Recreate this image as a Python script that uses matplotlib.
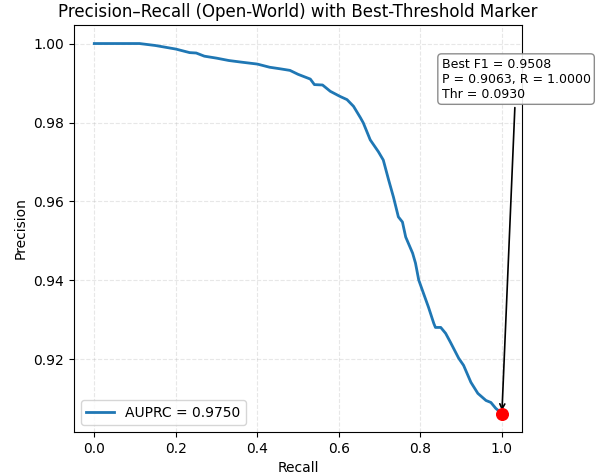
import matplotlib
matplotlib.use('Agg')
import matplotlib.pyplot as plt

# PR curve points
recall = [0.0, 0.111, 0.15, 0.2, 0.234, 0.25, 0.27, 0.30, 0.33, 0.36, 0.40,
          0.43, 0.456, 0.48, 0.50, 0.53, 0.54, 0.56, 0.579, 0.603, 0.62,
          0.636, 0.653, 0.660, 0.677, 0.697, 0.709, 0.722, 0.734, 0.746,
          0.756, 0.764, 0.781, 0.788, 0.796, 0.805, 0.820, 0.833, 0.837,
          0.850, 0.862, 0.874, 0.894, 0.906, 0.924, 0.941, 0.961, 0.973,
          0.985, 1.0]
precision = [1.0, 1.0, 0.9995, 0.9986, 0.9977, 0.9976, 0.9968, 0.9963, 0.9957,
             0.9953, 0.9948, 0.9940, 0.9936, 0.9932, 0.9922, 0.9910, 0.9896,
             0.9895, 0.9879, 0.9866, 0.9858, 0.9841, 0.9812, 0.9799, 0.9756,
             0.9726, 0.9705, 0.9655, 0.9611, 0.9561, 0.9548, 0.9510, 0.9469,
             0.9444, 0.9401, 0.9375, 0.9332, 0.9291, 0.9281, 0.9281, 0.9266,
             0.9243, 0.9203, 0.9185, 0.9142, 0.9114, 0.9096, 0.9091, 0.9076,
             0.9063]

auprc = 0.9750
best_f1 = 0.9508
best_p = 0.9063
best_r = 1.0000
best_thr = 0.0930

fig = plt.figure(figsize=(6.01, 4.76), dpi=100)
ax = fig.add_axes([0.123, 0.0924, 0.746, 0.855])

ax.plot(recall, precision, lw=2, label=f'AUPRC = {auprc:.4f}')
ax.scatter([best_r], [best_p], s=70, color='red', zorder=5)
ax.annotate(f'Best F1 = {best_f1:.4f}\nP = {best_p:.4f}, R = {best_r:.4f}\nThr = {best_thr:.4f}',
            xy=(best_r, best_p), xytext=(0.852, 0.9910),
            textcoords='data', ha='left', va='center', fontsize=9,
            bbox=dict(boxstyle='round', fc='white', ec='gray', alpha=0.9),
            arrowprops=dict(arrowstyle='->', color='black', lw=1.2))

ax.set_xlabel('Recall')
ax.set_ylabel('Precision')
ax.set_title('Precision–Recall (Open-World) with Best-Threshold Marker')
ax.grid(True, linestyle='--', alpha=0.3)
ax.legend(loc='lower left')

fig.savefig('out.png', dpi=100)
